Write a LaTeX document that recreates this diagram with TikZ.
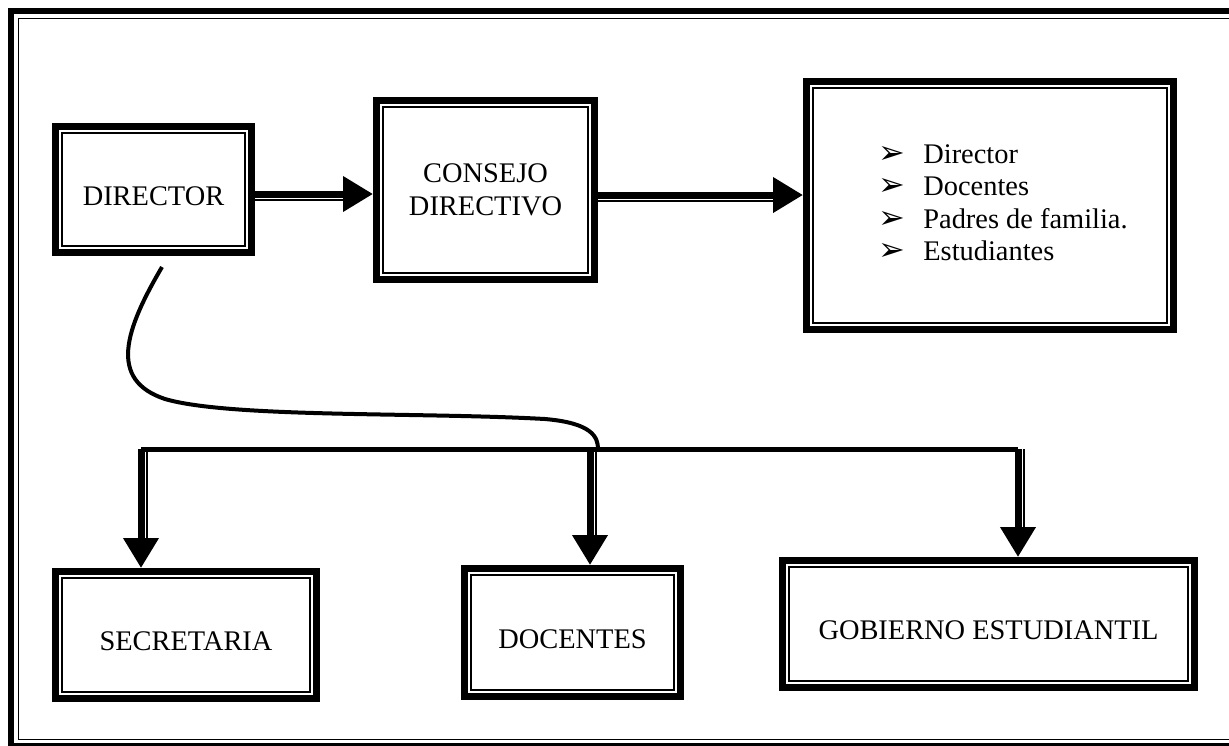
\documentclass[tikz,border=0pt]{standalone}
\usepackage{fontspec}
\setmainfont{Liberation Serif}
\newfontfamily\arrowfont{DejaVu Sans}
\usetikzlibrary{arrows.meta,positioning,calc}

\newcommand{\itemarrow}{\makebox[22.5pt][l]{\fontsize{16}{16}\selectfont\arrowfont ➢}}

\begin{document}
\begin{tikzpicture}[
  x=0.5pt, y=-0.5pt,                 % one unit = one pixel of the sheet
  every node/.style={align=center, inner sep=0pt, font=\fontsize{14.2}{16.3}\selectfont},
  framebox/.style={draw, line width=3.5pt},   % thick outer line of a box
  innerline/.style={line width=0.75pt},       % thin line inside it
  textlow/.style={text height=15.9pt, text depth=0pt}, % text sits a bit low
  harrow/.style={line width=3.5pt, -{Triangle[length=15pt,width=17pt]},
    preaction={draw, -, line width=0.75pt, shorten >=8pt, transform canvas={yshift=-3.1pt}}},
  varrow/.style={line width=3.5pt, -{Triangle[length=15pt,width=17pt]},
    preaction={draw, -, line width=0.75pt, shorten >=8pt, transform canvas={xshift=3.1pt}}},
  bus/.style={line width=2.5pt},
  link/.style={line width=2pt}
]
\useasboundingbox (0,0) rectangle (1229,745);

% page frame
\begin{scope}
\clip (0,0) rectangle (1229,745);
\draw[line width=3pt] (11,11) rectangle (1240,746);
\draw[innerline] (18.5,18.5) rectangle (1232.5,739.5);
\end{scope}

% top row
\node[framebox, textlow, minimum width=98pt, minimum height=63pt] (dir) at (153.5,189.5) {DIRECTOR};
\node[framebox, minimum width=109pt, minimum height=89.5pt] (cons) at (485.5,190) {CONSEJO\\ DIRECTIVO};
\node[framebox, minimum width=183.5pt, minimum height=124pt] (lista) at (990,205.5)
  {\begin{tabular}{@{\hspace{13pt}}l@{}}
   \itemarrow Director\\
   \itemarrow Docentes\\
   \itemarrow Padres de familia.\\
   \itemarrow Estudiantes
   \end{tabular}};

% bottom row
\node[framebox, textlow, minimum width=130.5pt, minimum height=63.5pt] (sec) at (186,635) {SECRETARIA};
\node[framebox, textlow, minimum width=108pt, minimum height=64pt] (doc) at (572.5,632.5) {DOCENTES};
\node[framebox, textlow, minimum width=206pt, minimum height=63.5pt] (gob) at (988.5,624) {GOBIERNO ESTUDIANTIL};

\foreach \n in {dir,cons,lista,sec,doc,gob}
  \draw[innerline] ([shift={(4.9pt,-4.9pt)}]\n.north west) rectangle ([shift={(-4.9pt,4.9pt)}]\n.south east);

\draw[harrow] (dir.east |- 0,194) -- (cons.west |- 0,194);
\draw[harrow] (cons.east |- 0,195) -- (lista.west |- 0,195);

% branch line
\coordinate (b1) at (141,449);
\coordinate (b2) at (590,449);
\coordinate (b3) at (1018,449);
\draw[bus] (b1) -- (b3);
\draw[varrow] (b1) -- (b1 |- sec.north);
\draw[varrow] (b2) -- (b2 |- doc.north);
\draw[varrow] (b3) -- (b3 |- gob.north);

% curve from director down to the branch line
\coordinate (c0) at (162,267);
\coordinate (join) at (598,449);
\draw[link] (c0) .. controls (125,330) and (108,380) .. (165,399)
  .. controls (230,418) and (420,412) .. (545,419)
  .. controls (592,423) and (598,437) .. (join);
\end{tikzpicture}
\end{document}
